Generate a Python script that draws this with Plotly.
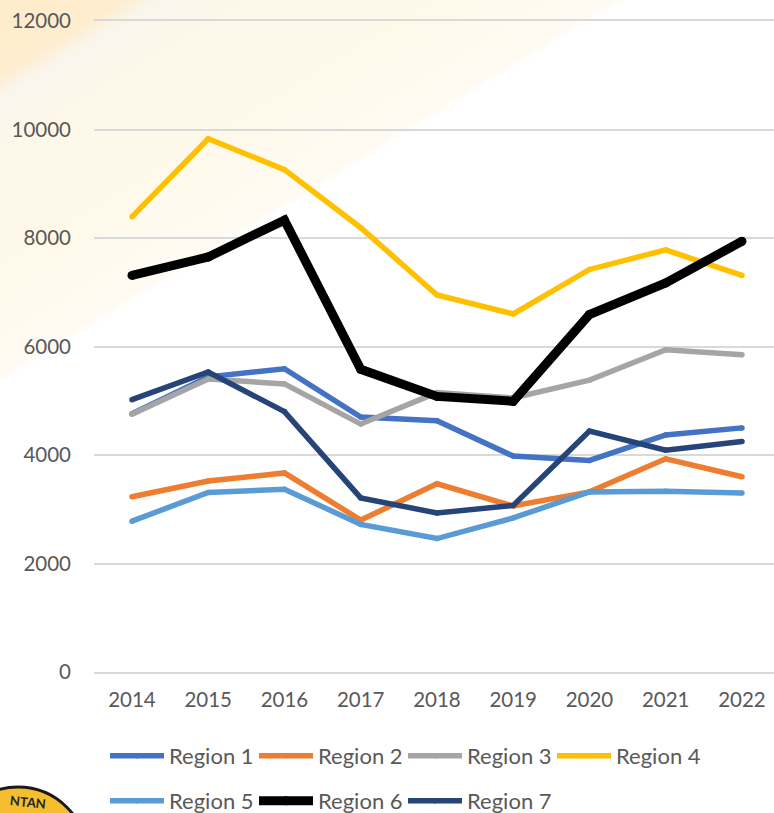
import base64, struct, zlib
import numpy as np
import plotly.graph_objects as go

years = ["2014", "2015", "2016", "2017", "2018", "2019", "2020", "2021", "2022"]
region_1 = [4760, 5440, 5590, 4700, 4630, 3980, 3900, 4370, 4500]
region_2 = [3230, 3520, 3670, 2800, 3470, 3060, 3320, 3930, 3600]
region_3 = [4750, 5400, 5310, 4570, 5150, 5050, 5380, 5940, 5850]
region_4 = [8390, 9830, 9260, 8190, 6950, 6600, 7420, 7780, 7310]
region_5 = [2780, 3310, 3370, 2720, 2460, 2840, 3320, 3330, 3300]
region_6 = [7310, 7650, 8330, 5580, 5080, 4990, 6590, 7170, 7940]
region_7 = [5020, 5530, 4800, 3210, 2930, 3070, 4440, 4090, 4250]
names = ["Region 1", "Region 2", "Region 3", "Region 4", "Region 5", "Region 6", "Region 7"]
values = [region_1, region_2, region_3, region_4, region_5, region_6, region_7]
colors = ["#4472C4", "#ED7D31", "#A5A5A5", "#FFC000", "#5B9BD5", "#000000", "#264478"]
widths = [5.5, 5.5, 5.5, 5.5, 5.5, 9, 5.5]
legends = ["legend", "legend", "legend", "legend", "legend2", "legend2", "legend2"]
y_ticks = [0, 2000, 4000, 6000, 8000, 10000, 12000]
y_labels = ["0", "2000", "4000", "6000", "8000", "10000", "12000"]

W, H = 774, 813
L, R, T, B = 94, 0, 21, 141
PW, PH = W - L - R, H - T - B
FONT = "Lato"
TXT = "#595959"


def background_png():
    yy, xx = np.mgrid[0:H, 0:W]
    t = 1 - (xx / 612 + yy / 375)
    stops = [-0.02, 0.0, 0.3, 0.6, 0.74, 0.8, 1.0]
    cols = np.array([[255, 255, 255], [255, 252, 244], [255, 249, 234], [254, 248, 234],
                     [250, 246, 238], [255, 238, 208], [255, 236, 204]], float)
    rgb = np.stack([np.interp(t, stops, cols[:, i]) for i in range(3)], axis=-1).astype(np.uint8)
    raw = b"".join(b"\x00" + rgb[r].tobytes() for r in range(H))

    def chunk(tag, data):
        return struct.pack(">I", len(data)) + tag + data + struct.pack(">I", zlib.crc32(tag + data))

    png = b"\x89PNG\r\n\x1a\n" + chunk(b"IHDR", struct.pack(">IIBBBBB", W, H, 8, 2, 0, 0, 0)) \
        + chunk(b"IDAT", zlib.compress(raw)) + chunk(b"IEND", b"")
    return "data:image/png;base64," + base64.b64encode(png).decode()


def px(x):
    return (x - L) / PW


def py(y):
    return 1 - (y - T) / PH


fig = go.Figure()
for name, vals, col, wd, leg in zip(names, values, colors, widths, legends):
    fig.add_trace(go.Scatter(
        x=years, y=vals, name=name, mode="lines+markers", legend=leg,
        line=dict(color=col, width=wd), marker=dict(color=col, size=wd),
    ))

legend_common = dict(
    orientation="h", xanchor="left", yanchor="middle", bgcolor="rgba(0,0,0,0)",
    xref="container", yref="container",
    font=dict(family=FONT, size=22, color=TXT), itemwidth=54,
    entrywidth=80, entrywidthmode="pixels", itemclick=False, itemdoubleclick=False,
)

fig.update_layout(
    width=W, height=H, autosize=False,
    margin=dict(l=L, r=R, t=T, b=B, pad=0),
    paper_bgcolor="white", plot_bgcolor="rgba(0,0,0,0)",
    font=dict(family=FONT, size=20, color=TXT),
    showlegend=True,
    legend=dict(x=105 / W, y=1 - 756 / H, **legend_common),
    legend2=dict(x=105 / W, y=1 - 801 / H, **legend_common),
    xaxis=dict(type="category", range=[-0.498, 8.42], showgrid=False, zeroline=False,
               showline=True, linecolor="#D9D9D9", linewidth=2, mirror=True,
               ticks="", tickfont=dict(size=20.5, family=FONT, color=TXT), ticklabelstandoff=8),
    yaxis=dict(range=[0, 12000], tickmode="array", tickvals=y_ticks, ticktext=y_labels,
               ticks="", showline=False, zeroline=False,
               gridcolor="#D9D9D9", gridwidth=2, ticklabelstandoff=22,
               tickfont=dict(size=20.5, family=FONT, color=TXT)),
    images=[dict(source=background_png(), xref="paper", yref="paper", x=px(0), y=py(0),
                 sizex=W / PW, sizey=H / PH, xanchor="left", yanchor="top",
                 sizing="stretch", layer="below")],
    shapes=[dict(type="circle", xref="paper", yref="paper", layer="below",
                 x0=px(-51), x1=px(87), y0=py(925), y1=py(787),
                 fillcolor="#F5BE2E", line=dict(color="#1A1A1A", width=3))],
    annotations=[dict(text="<b>NTAN</b>", xref="paper", yref="paper", x=px(28), y=py(802),
                      xanchor="center", yanchor="middle",
                      showarrow=False, textangle=6, font=dict(family=FONT, size=13, color="#222222"))],
    hovermode=False,
)
fig.write_html("out.html", config=dict(displayModeBar=False),
               post_script="document.body.style.margin='0';document.documentElement.style.overflow='hidden';")
